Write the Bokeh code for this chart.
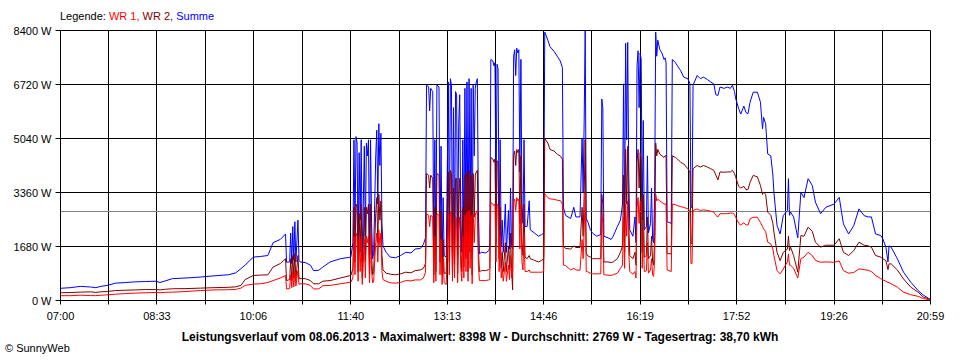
from bokeh.plotting import figure
from bokeh.models import FixedTicker, Span, Range1d, Div
from bokeh.layouts import column
from bokeh.embed import file_html
from bokeh.resources import INLINE

# ---------------- data ----------------
times = [
    "07:00", "07:10", "07:19", "07:29", "07:34", "07:39", "07:45", "07:53", "08:03", "08:12",
    "08:22", "08:32", "08:36", "08:41", "08:48", "09:01", "09:15", "09:29", "09:42", "09:49",
    "09:54", "09:58", "10:06", "10:13", "10:20", "10:25", "10:32", "10:37", "10:38", "10:41",
    "10:42", "10:43", "10:44", "10:45", "10:46", "10:47", "10:49", "10:50", "10:51", "10:56",
    "11:01", "11:04", "11:09", "11:13", "11:20", "11:30", "11:40", "11:42", "11:43", "11:44",
    "11:45", "11:46", "11:47", "11:48", "11:49", "11:50", "11:51", "11:53", "11:54", "11:55",
    "11:56", "11:57", "11:58", "11:59", "12:00", "12:01", "12:02", "12:04", "12:05", "12:06",
    "12:07", "12:08", "12:09", "12:10", "12:11", "12:14", "12:18", "12:23", "12:28", "12:33",
    "12:38", "12:42", "12:47", "12:50", "12:52", "12:53", "12:55", "12:56", "12:57", "12:59",
    "13:00", "13:01", "13:02", "13:03", "13:05", "13:06", "13:07", "13:08", "13:09", "13:10",
    "13:12", "13:14", "13:15", "13:16", "13:17", "13:18", "13:19", "13:20", "13:21", "13:22",
    "13:23", "13:24", "13:25", "13:26", "13:27", "13:28", "13:29", "13:30", "13:31", "13:32",
    "13:33", "13:34", "13:35", "13:36", "13:37", "13:38", "13:39", "13:40", "13:41", "13:42",
    "13:43", "13:44", "13:46", "13:50", "13:53", "13:54", "13:55", "13:57", "13:58", "13:59",
    "14:00", "14:01", "14:02", "14:03", "14:04", "14:05", "14:06", "14:07", "14:09", "14:10",
    "14:12", "14:13", "14:14", "14:15", "14:16", "14:17", "14:18", "14:19", "14:20", "14:21",
    "14:22", "14:23", "14:24", "14:25", "14:26", "14:27", "14:28", "14:30", "14:32", "14:33",
    "14:37", "14:41", "14:44", "14:46", "14:47", "14:50", "14:52", "14:56", "14:59", "15:02",
    "15:04", "15:05", "15:07", "15:12", "15:15", "15:17", "15:21", "15:23", "15:24", "15:25",
    "15:26", "15:27", "15:28", "15:31", "15:33", "15:37", "15:41", "15:42", "15:43", "15:44",
    "15:48", "15:51", "15:53", "15:57", "16:00", "16:02", "16:03", "16:04", "16:05", "16:06",
    "16:07", "16:08", "16:09", "16:12", "16:14", "16:15", "16:16", "16:17", "16:18", "16:19",
    "16:20", "16:21", "16:22", "16:23", "16:25", "16:26", "16:27", "16:29", "16:30", "16:31",
    "16:32", "16:33", "16:34", "16:35", "16:36", "16:38", "16:40", "16:42", "16:43", "16:44",
    "16:45", "16:49", "16:50", "16:53", "16:55", "16:58", "17:01", "17:05", "17:07", "17:08",
    "17:09", "17:10", "17:14", "17:17", "17:20", "17:24", "17:27", "17:30", "17:32", "17:34",
    "17:36", "17:40", "17:43", "17:46", "17:48", "17:50", "17:51", "17:54", "17:56", "17:59",
    "18:01", "18:03", "18:05", "18:08", "18:12", "18:15", "18:17", "18:18", "18:20", "18:22",
    "18:25", "18:27", "18:28", "18:31", "18:34", "18:37", "18:41", "18:42", "18:43", "18:44",
    "18:47", "18:51", "18:54", "18:57", "19:01", "19:05", "19:08", "19:13", "19:18", "19:26",
    "19:31", "19:35", "19:40", "19:45", "19:50", "19:55", "19:59", "20:02", "20:06", "20:11",
    "20:13", "20:16", "20:18", "20:19", "20:21", "20:27", "20:33", "20:40", "20:47", "20:52",
    "20:57", "20:59",
]

wr1 = [
    150, 150, 165, 155, 150, 165, 175, 195, 215, 230,
    240, 250, 240, 255, 260, 280, 310, 330, 335, 345,
    385, 470, 510, 520, 560, 620, 700, 780, 360, 370,
    800, 400, 900, 420, 930, 450, 930, 500, 520, 520,
    470, 360, 360, 460, 470, 520, 570, 700, 2000, 800,
    2100, 2000, 600, 1900, 900, 2000, 500, 1900, 700, 2000,
    1800, 2000, 550, 2050, 900, 550, 600, 1800, 2100, 1200,
    2200, 1700, 2100, 900, 650, 600, 550, 540, 560, 620,
    610, 640, 640, 700, 880, 2700, 2650, 2300, 2650, 2600,
    550, 2000, 600, 2700, 2650, 800, 1900, 500, 1300, 550,
    500, 2700, 800, 2750, 2700, 600, 2400, 700, 2600, 2550,
    550, 2200, 2600, 1000, 600, 2000, 700, 2650, 900, 2750,
    600, 2800, 1000, 2650, 520, 2700, 1800, 2650, 2750, 2800,
    1100, 620, 620, 620, 640, 650, 3050, 3000, 2950, 3000,
    1200, 3000, 2950, 900, 2000, 700, 1000, 600, 1200, 600,
    1100, 650, 1400, 700, 900, 3100, 3150, 2800, 3200, 3100,
    3150, 1600, 3000, 1200, 950, 2000, 900, 900, 950, 880,
    880, 880, 880, 900, 3320, 3200, 3160, 3150, 3120, 3110,
    3000, 1100, 1090, 950, 1000, 950, 940, 1900, 1300, 2200,
    3350, 900, 900, 850, 830, 830, 830, 2700, 2400, 800,
    790, 780, 800, 850, 1000, 1100, 2600, 1000, 3000, 2000,
    3100, 1500, 900, 820, 900, 700, 2900, 3200, 2400, 3100,
    3000, 1000, 2200, 900, 920, 1800, 850, 950, 1300, 800,
    750, 1300, 3300, 3100, 3150, 3100, 3050, 3000, 3000, 3000,
    950, 900, 3000, 2980, 2950, 2920, 2900, 2850, 2800, 1150,
    1150, 2800, 2850, 2800, 2820, 2800, 2780, 2750, 2650, 2600,
    2700, 2700, 2700, 2720, 2720, 2680, 2600, 2400, 2350, 2420,
    2350, 2350, 2540, 2590, 2590, 2430, 2300, 2230, 2150, 1815,
    1760, 1600, 1400, 930, 830, 980, 1200, 1450, 1100, 1100,
    1000, 700, 1300, 1350, 1500, 1400, 1250, 1190, 1200, 1190,
    1230, 930, 850, 870, 985, 960, 940, 900, 780, 680,
    640, 600, 560, 560, 520, 415, 260, 180, 130, 60,
    30, 20,
]

wr2 = [
    240, 250, 260, 270, 250, 270, 280, 310, 320, 330,
    340, 340, 330, 350, 365, 370, 385, 400, 410, 425,
    470, 650, 780, 790, 800, 1040, 1150, 1300, 620, 650,
    1300, 620, 1400, 700, 1460, 650, 1400, 700, 680, 680,
    620, 520, 520, 600, 620, 700, 780, 1000, 2900, 1200,
    3000, 2900, 900, 2700, 1500, 3000, 700, 2900, 1200, 2900,
    2700, 3000, 800, 3000, 1400, 800, 900, 2700, 3200, 1800,
    3300, 2500, 3100, 1400, 950, 850, 820, 800, 830, 880,
    860, 930, 950, 1000, 1150, 3950, 3900, 3500, 3900, 3800,
    800, 2900, 900, 3950, 3900, 1200, 2800, 800, 1900, 850,
    850, 4000, 1200, 4050, 3950, 900, 3500, 1100, 3800, 3800,
    850, 3200, 3800, 1500, 900, 2900, 1050, 3900, 1300, 4000,
    900, 4050, 1500, 3900, 800, 3950, 2600, 3900, 4000, 4050,
    1600, 900, 930, 930, 960, 1000, 4450, 4400, 4300, 4400,
    1800, 4350, 4300, 1300, 2900, 1000, 1500, 900, 1800, 900,
    1700, 950, 2100, 1000, 330, 4500, 4650, 4200, 4700, 4600,
    4700, 2400, 4500, 1800, 1400, 3000, 1350, 1300, 1400, 1300,
    1250, 1200, 1250, 1300, 5030, 4900, 4700, 4650, 4550, 4500,
    4400, 1700, 1620, 1600, 1700, 1650, 1650, 2900, 2000, 3300,
    5000, 1500, 1400, 1350, 1300, 1300, 1300, 3300, 3000, 1200,
    1200, 1180, 1200, 1300, 1500, 1700, 3900, 1500, 4700, 3000,
    4800, 2400, 1400, 1300, 1500, 1100, 4300, 4700, 3500, 4600,
    4400, 1500, 3300, 1350, 1400, 2600, 1300, 1400, 2000, 1200,
    1100, 2000, 4900, 4500, 4700, 4550, 4500, 4450, 4500, 4500,
    1460, 1450, 4500, 4450, 4400, 4300, 4250, 4100, 4000, 1770,
    1770, 4100, 4200, 4150, 4200, 4150, 4100, 4050, 3900, 3750,
    4000, 3990, 4000, 4000, 4050, 3950, 3850, 3550, 3500, 3550,
    3450, 3450, 3680, 3890, 3850, 3580, 3300, 3370, 3300, 2750,
    2650, 2400, 2130, 1500, 1240, 1500, 1600, 2000, 1550, 1660,
    1400, 880, 2020, 2000, 2280, 2150, 1815, 1660, 1720, 1720,
    1920, 1500, 1400, 1550, 1815, 1720, 1700, 1660, 1400, 1350,
    1300, 1240, 960, 1140, 1140, 950, 670, 415, 260, 110,
    50, 30,
]

summe = [
    380, 400, 440, 420, 400, 440, 470, 540, 560, 580,
    590, 600, 560, 610, 680, 700, 730, 770, 800, 860,
    990, 1100, 1350, 1370, 1400, 1800, 1900, 2070, 1190, 1200,
    2100, 1150, 2300, 1250, 2450, 1200, 2500, 1250, 1200, 1180,
    1100, 930, 940, 1040, 1200, 1300, 1350, 1800, 5000, 2200,
    5100, 4900, 1500, 4600, 2500, 5000, 1200, 4800, 2000, 4900,
    4500, 5000, 1400, 5000, 2400, 1300, 1500, 4500, 5300, 3000,
    5500, 4200, 5200, 2400, 1700, 1500, 1350, 1330, 1400, 1500,
    1480, 1600, 1620, 1750, 1950, 6700, 6650, 5900, 6600, 6500,
    1400, 5000, 1500, 6700, 6650, 2000, 4800, 1300, 3200, 1400,
    1350, 6800, 2000, 6900, 6700, 1500, 6000, 1800, 6500, 6400,
    1400, 5500, 6400, 2500, 1500, 5000, 1800, 6600, 2200, 6800,
    1500, 6900, 2500, 6600, 1300, 6700, 4500, 6600, 6800, 6900,
    2800, 1450, 1500, 1480, 1550, 1650, 7500, 7450, 7300, 7400,
    3000, 7350, 7200, 2200, 5000, 1700, 2500, 1500, 3000, 1500,
    2800, 1600, 3500, 1700, 1600, 7600, 7800, 7000, 7850, 7700,
    7800, 4000, 7500, 3000, 2400, 5000, 2300, 2300, 3100, 2200,
    2100, 2000, 2050, 2100, 8350, 8100, 7900, 7750, 7600, 7450,
    7250, 2900, 2650, 2550, 2900, 2600, 2600, 5040, 3370, 5550,
    8398, 2500, 2500, 2200, 2100, 2000, 2050, 6270, 6000, 2000,
    1950, 1900, 2000, 2300, 2500, 3000, 6740, 2500, 8000, 5000,
    8030, 4000, 2200, 2000, 2600, 1800, 7300, 7770, 6000, 7700,
    7500, 2500, 5600, 2200, 2300, 4500, 2100, 2400, 3500, 1900,
    1800, 3400, 8350, 7600, 8100, 7800, 7700, 7500, 7550, 7400,
    2450, 2400, 7500, 7400, 7300, 7150, 6950, 6900, 6750, 2900,
    2900, 6700, 7000, 6900, 6950, 6870, 6800, 6740, 6400, 6380,
    6640, 6600, 6640, 6600, 6700, 6500, 6300, 5970, 5800, 6050,
    5850, 5810, 6170, 6480, 6480, 6170, 5340, 5700, 5500, 4560,
    4500, 3900, 3370, 2330, 2070, 2640, 2800, 3790, 2650, 2750,
    2600, 1950, 3370, 3200, 3790, 3580, 3060, 2700, 2900, 3000,
    3210, 2385, 2070, 2330, 2850, 2640, 2600, 2600, 2070, 2020,
    1920, 1660, 1200, 1700, 1660, 1300, 880, 570, 310, 170,
    70, 40,
]

x_tick_labels = ["07:00", "08:33", "10:06", "11:40", "13:13",
                 "14:46", "16:19", "17:52", "19:26", "20:59"]
y_tick_values = [0, 1680, 3360, 5040, 6720, 8400]
average_w = 2769

title_text = ("Leistungsverlauf vom 08.06.2013 - Maximalwert: 8398 W - "
              "Durchschnitt: 2769 W - Tagesertrag: 38,70 kWh")
copyright_text = "\u00a9 SunnyWeb"
legend_texts = ["Legende:", "WR 1,", "WR 2,", "Summe"]
legend_colors = ["black", "#FF0000", "#800000", "#0000FF"]

assert len(times) == len(wr1) == len(wr2) == len(summe)


def to_minutes(hhmm):
    h, m = hhmm.split(":")
    return int(h) * 60 + int(m)


t = [to_minutes(s) for s in times]
major = [to_minutes(s) for s in x_tick_labels]
minor = [(a + b) / 2 for a, b in zip(major[:-1], major[1:])]

FONT = "Liberation Sans"
W = 952

# ---------------- legend line (top) ----------------
legend_html = " ".join(
    f'<span style="color:{c}">{txt}</span>' for txt, c in zip(legend_texts, legend_colors)
)
top_div = Div(
    text=(f'<div style="font-family:\'{FONT}\';font-size:11px;line-height:13px;'
          f'padding-left:60px;padding-top:10px;white-space:nowrap">{legend_html}</div>'),
    width=W, height=24, margin=0,
)

# ---------------- chart ----------------
p = figure(width=W, height=300, output_backend="svg", toolbar_location=None,
           x_range=Range1d(major[0], major[-1]),
           y_range=Range1d(y_tick_values[0], y_tick_values[-1]),
           min_border_left=60, min_border_right=22,
           min_border_top=6, min_border_bottom=24, margin=0)
p.background_fill_color = "white"
p.border_fill_color = "white"
p.outline_line_color = "black"
p.outline_line_width = 1

xt = FixedTicker(ticks=major, minor_ticks=minor)
ax = p.xaxis[0]
ax.ticker = xt
ax.major_label_overrides = {m: s for m, s in zip(major, x_tick_labels)}
ax.axis_line_color = "black"
ax.major_tick_line_color = "black"
ax.minor_tick_line_color = "black"
ax.major_tick_out = 4
ax.major_tick_in = 0
ax.minor_tick_out = 4
ax.minor_tick_in = 0
ax.major_label_standoff = 5
ax.major_label_text_font = FONT
ax.major_label_text_font_size = "11px"
ax.major_label_text_color = "black"
p.xgrid.ticker = xt
p.xgrid.grid_line_color = "black"
p.xgrid.grid_line_alpha = 1
p.xgrid.minor_grid_line_color = "black"

yt = FixedTicker(ticks=y_tick_values, minor_ticks=[])
ay = p.yaxis[0]
ay.ticker = yt
ay.major_label_overrides = {v: f"{v} W" for v in y_tick_values}
ay.axis_line_color = "black"
ay.major_tick_line_color = "black"
ay.minor_tick_line_color = None
ay.major_tick_out = 5
ay.major_tick_in = 0
ay.major_label_standoff = 4
ay.major_label_text_font = FONT
ay.major_label_text_font_size = "11px"
ay.major_label_text_color = "black"
p.ygrid.ticker = yt
p.ygrid.grid_line_color = "black"
p.ygrid.grid_line_alpha = 1

p.add_layout(Span(location=average_w, dimension="width", line_color="#808080",
                  line_width=1, level="underlay"))

p.line(t, summe, line_color="#0000FF", line_width=1)
p.line(t, wr2, line_color="#800000", line_width=1)
p.line(t, wr1, line_color="#FF0000", line_width=1)

# ---------------- footer ----------------
bottom_div = Div(
    text=(f'<div style="position:relative;width:{W}px;height:36px;font-family:\'{FONT}\'">'
          f'<div style="position:absolute;left:0;top:6px;width:960px;text-align:center;'
          f'font-weight:bold;font-size:12px;line-height:14px;white-space:nowrap">{title_text}</div>'
          f'<div style="position:absolute;left:5px;top:18px;font-size:11px;line-height:13px;'
          f'white-space:nowrap">{copyright_text}</div></div>'),
    width=W, height=36, margin=0,
)

layout = column(top_div, p, bottom_div, spacing=0)

open("out.html", "w").write(file_html(layout, INLINE))
